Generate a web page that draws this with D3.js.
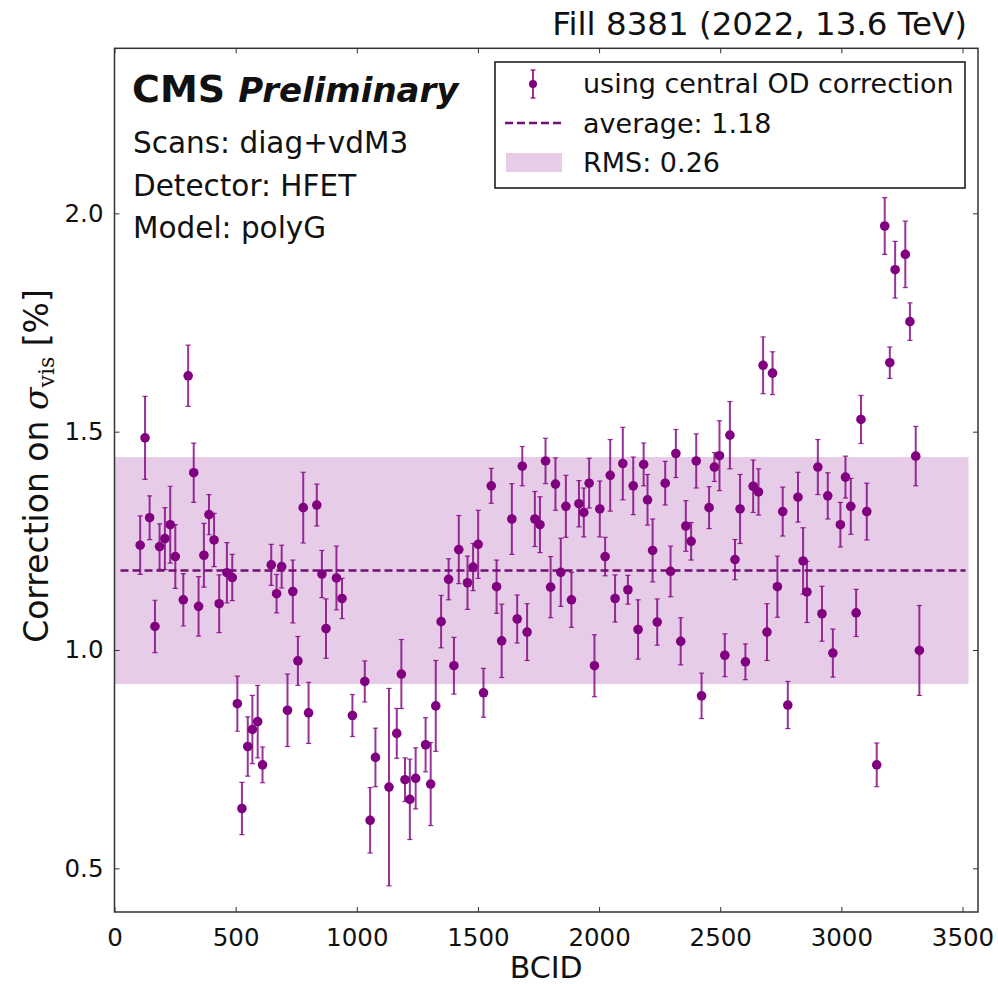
<!DOCTYPE html>
<html>
<head>
<meta charset="utf-8">
<script src="https://cdn.jsdelivr.net/npm/d3@7"></script>
<style>
  body { margin: 0; background: #fff; }
  text { font-family: "DejaVu Sans", sans-serif; fill: #111; }
</style>
</head>
<body>
<div class="chart"></div>
<script>
// BCID of each colliding bunch
var bcid = [106,126,145,167,186,208,230,251,284,304,
  327,347,369,390,411,432,464,486,507,526,
  550,569,591,611,647,669,690,714,736,757,
  779,801,835,856,873,916,939,982,1033,1055,
  1077,1133,1165,1184,1199,1219,1243,1284,1305,1326,
  1348,1379,1401,1421,1457,1480,1501,1523,1555,1577,
  1598,1640,1662,1683,1703,1735,1756,1779,1800,1820,
  1842,1863,1886,1917,1937,1959,1981,2003,2025,2046,
  2066,2098,2119,2141,2161,2184,2200,2221,2240,2273,
  2295,2317,2337,2358,2380,2401,2423,2454,2476,2497,
  2519,2540,2561,2582,2604,2636,2658,2677,2693,2716,
  2736,2758,2779,2821,2842,2858,2903,2920,2944,2965,
  2996,3017,3039,3061,3081,3105,3146,3179,3200,3222,
  3264,3283,3307,3322];

// correction on sigma_vis [%]
var correction = [1.240,1.486,1.303,1.054,1.237,1.255,1.287,1.214,1.115,1.628,
  1.406,1.100,1.217,1.310,1.252,1.106,1.177,1.166,0.877,0.637,
  0.779,0.818,0.836,0.737,1.195,1.129,1.191,0.862,1.134,0.975,
  1.326,0.856,1.332,1.174,1.049,1.165,1.118,0.850,0.928,0.610,
  0.754,0.686,0.809,0.945,0.703,0.658,0.706,0.783,0.693,0.872,
  1.065,1.162,0.964,1.230,1.154,1.190,1.242,0.902,1.376,1.145,
  1.021,1.300,1.071,1.421,1.041,1.300,1.287,1.433,1.144,1.380,
  1.178,1.329,1.115,1.335,1.315,1.382,0.964,1.323,1.214,1.400,
  1.118,1.427,1.138,1.376,1.047,1.425,1.344,1.228,1.064,1.382,
  1.180,1.450,1.020,1.284,1.249,1.433,0.895,1.326,1.419,1.445,
  0.988,1.492,1.207,1.323,0.973,1.375,1.362,1.652,1.041,1.634,
  1.145,1.317,0.874,1.350,1.204,1.133,1.419,1.083,1.353,0.993,
  1.287,1.396,1.329,1.085,1.528,1.317,0.737,1.971,1.658,1.871,
  1.906,1.752,1.444,0.999];

var corrError = [0.067,0.095,0.05,0.06,0.052,0.071,0.088,0.073,0.06,0.07,
  0.068,0.068,0.073,0.046,0.061,0.066,0.069,0.053,0.063,0.06,
  0.068,0.078,0.083,0.041,0.047,0.044,0.049,0.083,0.072,0.056,
  0.081,0.07,0.048,0.054,0.068,0.073,0.046,0.048,0.047,0.075,
  0.067,0.226,0.057,0.079,0.05,0.092,0.07,0.062,0.095,0.104,
  0.06,0.047,0.065,0.078,0.061,0.054,0.078,0.056,0.04,0.061,
  0.084,0.081,0.055,0.045,0.065,0.063,0.064,0.052,0.07,0.06,
  0.078,0.071,0.063,0.053,0.056,0.057,0.071,0.064,0.044,0.082,
  0.054,0.083,0.033,0.066,0.068,0.049,0.058,0.072,0.053,0.05,
  0.058,0.055,0.054,0.058,0.043,0.062,0.052,0.048,0.033,0.08,
  0.049,0.077,0.046,0.079,0.041,0.06,0.053,0.065,0.065,0.049,
  0.07,0.056,0.054,0.057,0.076,0.07,0.063,0.063,0.053,0.055,
  0.051,0.048,0.064,0.054,0.055,0.065,0.05,0.065,0.036,0.065,
  0.076,0.043,0.068,0.103];

var average = 1.182;
var rms = 0.26;
var bandRange = [0, 3525];

var xTicks = [0, 500, 1000, 1500, 2000, 2500, 3000, 3500];
var yTicks = [0.5, 1.0, 1.5, 2.0];
var xDomain = [0, 3564];
var yDomain = [0.40, 2.378];

var infoLines = ["Scans: diag+vdM3", "Detector: HFET", "Model: polyG"];
var legendLabels = ["using central OD correction", "average: 1.18", "RMS: 0.26"];

var svgWidth = 998;
var svgHeight = 984;
var margin = { top: 48.3, right: 20, bottom: 72, left: 114.5 };
var width = svgWidth - margin.left - margin.right;
var height = svgHeight - margin.top - margin.bottom;

var color = "purple";

var svg = d3.select(".chart")
  .append("svg")
  .attr("width", svgWidth)
  .attr("height", svgHeight);

var chartGroup = svg.append("g")
  .attr("transform", `translate(${margin.left}, ${margin.top})`);

var x = d3.scaleLinear().domain(xDomain).range([0, width]);
var y = d3.scaleLinear().domain(yDomain).range([height, 0]);

svg.append("defs").append("clipPath").attr("id", "plotClip")
  .append("rect").attr("width", width).attr("height", height);

var plot = chartGroup.append("g").attr("clip-path", "url(#plotClip)");

// RMS band + average line
plot.append("rect")
  .attr("x", x(bandRange[0]))
  .attr("width", x(bandRange[1]) - x(bandRange[0]))
  .attr("y", y(average + rms))
  .attr("height", y(average - rms) - y(average + rms))
  .attr("fill", color)
  .attr("fill-opacity", 0.2);

plot.append("line")
  .attr("x1", x(bandRange[0]) + 6)
  .attr("x2", x(bandRange[1]) - 3)
  .attr("y1", y(average))
  .attr("y2", y(average))
  .attr("stroke", "#701070")
  .attr("stroke-width", 2.4)
  .attr("stroke-dasharray", "8,4");

var data = bcid.map(function(b, i) {
  return { bcid: b, value: correction[i], err: corrError[i] };
});

// error bars
var bars = plot.append("g")
  .attr("stroke", color)
  .attr("stroke-opacity", 0.8);

bars.selectAll(".ebar")
  .data(data)
  .enter()
  .append("line")
  .attr("x1", d => x(d.bcid))
  .attr("x2", d => x(d.bcid))
  .attr("y1", d => y(d.value + d.err))
  .attr("y2", d => y(d.value - d.err))
  .attr("stroke-width", 2);

["top", "bottom"].forEach(function(side) {
  bars.selectAll(".cap-" + side)
    .data(data)
    .enter()
    .append("line")
    .attr("x1", d => x(d.bcid) - 2.6)
    .attr("x2", d => x(d.bcid) + 2.6)
    .attr("y1", d => y(side == "top" ? d.value + d.err : d.value - d.err))
    .attr("y2", d => y(side == "top" ? d.value + d.err : d.value - d.err))
    .attr("stroke-width", 1.2);
});

plot.selectAll("circle")
  .data(data)
  .enter()
  .append("circle")
  .attr("cx", d => x(d.bcid))
  .attr("cy", d => y(d.value))
  .attr("r", 4.8)
  .attr("fill", color);

// axes, ticks pointing inward on all four sides
var bottomAxis = d3.axisBottom(x).tickValues(xTicks).tickSize(-5).tickPadding(17)
  .tickFormat(d3.format("d"));
var topAxis = d3.axisTop(x).tickValues(xTicks).tickSize(-5).tickFormat("");
var leftAxis = d3.axisLeft(y).tickValues(yTicks).tickSize(-5).tickPadding(11)
  .tickFormat(d3.format(".1f"));
var rightAxis = d3.axisRight(y).tickValues(yTicks).tickSize(-5).tickFormat("");

function styleAxis(g) {
  g.select(".domain").remove();
  g.selectAll(".tick line").attr("stroke", "#333").attr("stroke-width", 1);
  g.selectAll(".tick text")
    .attr("font-family", "DejaVu Sans")
    .attr("font-size", 24.5)
    .attr("fill", "#111");
}

chartGroup.append("g").attr("transform", `translate(0, ${height})`).call(bottomAxis).call(styleAxis);
chartGroup.append("g").call(topAxis).call(styleAxis);
chartGroup.append("g").call(leftAxis).call(styleAxis);
chartGroup.append("g").attr("transform", `translate(${width}, 0)`).call(rightAxis).call(styleAxis);

chartGroup.append("rect")
  .attr("width", width)
  .attr("height", height)
  .attr("fill", "none")
  .attr("stroke", "#333")
  .attr("stroke-width", 1.5);

// axis labels
chartGroup.append("text")
  .attr("x", width / 2)
  .attr("y", height + 66)
  .attr("text-anchor", "middle")
  .attr("font-size", 30)
  .text("BCID");

var yLabel = svg.append("text")
  .attr("transform", "translate(48, 466) rotate(-90)")
  .attr("text-anchor", "middle")
  .attr("font-size", 33);
yLabel.append("tspan").text("Correction on ");
yLabel.append("tspan").attr("font-family", "DejaVu Serif").attr("font-style", "italic").text("σ");
yLabel.append("tspan").attr("font-family", "DejaVu Serif").attr("font-size", 22).attr("dy", 6).text("vis");
yLabel.append("tspan").attr("dy", -6).text(" [%]");

// title
svg.append("text")
  .attr("x", 967)
  .attr("y", 35)
  .attr("text-anchor", "end")
  .attr("font-size", 32.5)
  .text("Fill 8381 (2022, 13.6 TeV)");

// CMS label
var cms = svg.append("text")
  .attr("x", 132)
  .attr("y", 102);
cms.append("tspan").attr("font-weight", "bold").attr("font-size", 38).text("CMS ");
cms.append("tspan").attr("font-weight", "bold").attr("font-style", "italic").attr("font-size", 34).text("Preliminary");

svg.selectAll(".info")
  .data(infoLines)
  .enter()
  .append("text")
  .attr("x", 133)
  .attr("y", (d, i) => 153 + i * 42.5)
  .attr("font-size", 29.5)
  .text(d => d);

// legend
var legend = svg.append("g");
legend.append("rect")
  .attr("x", 495).attr("y", 62)
  .attr("width", 470).attr("height", 126)
  .attr("fill", "white")
  .attr("stroke", "#111")
  .attr("stroke-width", 1.5);

legend.append("line")
  .attr("x1", 533).attr("x2", 533).attr("y1", 70).attr("y2", 98)
  .attr("stroke", color).attr("stroke-opacity", 0.8).attr("stroke-width", 2);
[70, 98].forEach(function(cy) {
  legend.append("line")
    .attr("x1", 530.5).attr("x2", 535.5).attr("y1", cy).attr("y2", cy)
    .attr("stroke", color).attr("stroke-width", 1.2);
});
legend.append("circle").attr("cx", 533).attr("cy", 84).attr("r", 4).attr("fill", color);

legend.append("line")
  .attr("x1", 505).attr("x2", 562).attr("y1", 123).attr("y2", 123)
  .attr("stroke", "#701070").attr("stroke-width", 2.4).attr("stroke-dasharray", "8,4");

legend.append("rect")
  .attr("x", 506).attr("y", 153).attr("width", 56).attr("height", 19)
  .attr("fill", color).attr("fill-opacity", 0.2);

legend.selectAll(".legText")
  .data(legendLabels)
  .enter()
  .append("text")
  .attr("x", 583)
  .attr("y", (d, i) => 93 + i * 39.5)
  .attr("font-size", 27)
  .text(d => d);
</script>
</body>
</html>
